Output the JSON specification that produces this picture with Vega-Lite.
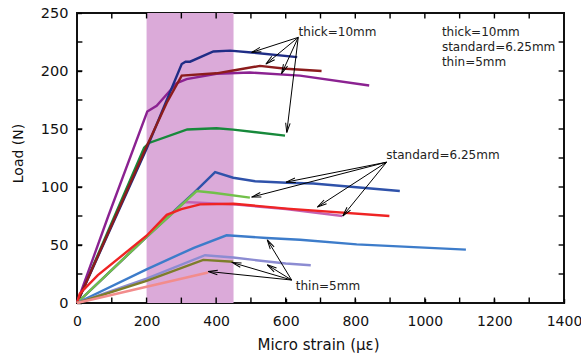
{
  "$schema": "https://vega.github.io/schema/vega-lite/v6.json",
  "width": 487,
  "height": 290,
  "autosize": "none",
  "padding": {"left": 77, "top": 13, "right": 17, "bottom": 53},
  "background": "white",
  "config": {
    "view": {"stroke": "#111", "strokeWidth": 2},
    "axis": {"labelFont": "DejaVu Sans", "titleFont": "DejaVu Sans", "labelColor": "#111", "titleColor": "#111", "tickColor": "#000", "tickWidth": 1.4, "titleFontWeight": "normal", "domain": false, "grid": false, "labelFlush": false}
  },
  "datasets": {
    "band": [{"x": 200, "x2": 450, "y": 0, "y2": 250}],
    "ticksBottom": [{"x": 100, "y": 0}, {"x": 200, "y": 0}, {"x": 300, "y": 0}, {"x": 400, "y": 0}, {"x": 500, "y": 0}, {"x": 600, "y": 0}, {"x": 700, "y": 0}, {"x": 800, "y": 0}, {"x": 900, "y": 0}, {"x": 1000, "y": 0}, {"x": 1100, "y": 0}, {"x": 1200, "y": 0}, {"x": 1300, "y": 0}],
    "ticksTop": [{"x": 100, "y": 250}, {"x": 200, "y": 250}, {"x": 300, "y": 250}, {"x": 400, "y": 250}, {"x": 500, "y": 250}, {"x": 600, "y": 250}, {"x": 700, "y": 250}, {"x": 800, "y": 250}, {"x": 900, "y": 250}, {"x": 1000, "y": 250}, {"x": 1100, "y": 250}, {"x": 1200, "y": 250}, {"x": 1300, "y": 250}],
    "ticksLeft": [{"x": 0, "y": 25}, {"x": 0, "y": 50}, {"x": 0, "y": 75}, {"x": 0, "y": 100}, {"x": 0, "y": 125}, {"x": 0, "y": 150}, {"x": 0, "y": 175}, {"x": 0, "y": 200}, {"x": 0, "y": 225}],
    "ticksRight": [{"x": 1400, "y": 25}, {"x": 1400, "y": 50}, {"x": 1400, "y": 75}, {"x": 1400, "y": 100}, {"x": 1400, "y": 125}, {"x": 1400, "y": 150}, {"x": 1400, "y": 175}, {"x": 1400, "y": 200}, {"x": 1400, "y": 225}],
    "lines": [
      {"s": "std magenta", "x": 0, "y": 0}, {"s": "std magenta", "x": 200, "y": 57}, {"s": "std magenta", "x": 310, "y": 87}, {"s": "std magenta", "x": 450, "y": 85}, {"s": "std magenta", "x": 600, "y": 81}, {"s": "std magenta", "x": 763, "y": 75},
      {"s": "thick green", "x": 0, "y": 0}, {"s": "thick green", "x": 193, "y": 133.8}, {"s": "thick green", "x": 207, "y": 138}, {"s": "thick green", "x": 317, "y": 149.6}, {"s": "thick green", "x": 401, "y": 150.6}, {"s": "thick green", "x": 449, "y": 149.5}, {"s": "thick green", "x": 598, "y": 144.3},
      {"s": "thick purple", "x": 0, "y": 0}, {"s": "thick purple", "x": 90, "y": 75}, {"s": "thick purple", "x": 202, "y": 165}, {"s": "thick purple", "x": 229, "y": 170}, {"s": "thick purple", "x": 287, "y": 189.6}, {"s": "thick purple", "x": 315, "y": 193}, {"s": "thick purple", "x": 401, "y": 197.6}, {"s": "thick purple", "x": 497, "y": 198.7}, {"s": "thick purple", "x": 641, "y": 196}, {"s": "thick purple", "x": 840, "y": 187.5},
      {"s": "thick navy", "x": 0, "y": 0}, {"s": "thick navy", "x": 200, "y": 133}, {"s": "thick navy", "x": 301, "y": 206}, {"s": "thick navy", "x": 312, "y": 208}, {"s": "thick navy", "x": 325, "y": 208}, {"s": "thick navy", "x": 392, "y": 216.8}, {"s": "thick navy", "x": 440, "y": 217.6}, {"s": "thick navy", "x": 502, "y": 216}, {"s": "thick navy", "x": 633, "y": 212},
      {"s": "thick darkred", "x": 0, "y": 0}, {"s": "thick darkred", "x": 200, "y": 135}, {"s": "thick darkred", "x": 258, "y": 172.6}, {"s": "thick darkred", "x": 301, "y": 196}, {"s": "thick darkred", "x": 401, "y": 198}, {"s": "thick darkred", "x": 449, "y": 200.4}, {"s": "thick darkred", "x": 526, "y": 204.4}, {"s": "thick darkred", "x": 600, "y": 202}, {"s": "thick darkred", "x": 703, "y": 200},
      {"s": "std blue", "x": 0, "y": 0}, {"s": "std blue", "x": 200, "y": 57}, {"s": "std blue", "x": 300, "y": 85}, {"s": "std blue", "x": 336, "y": 95}, {"s": "std blue", "x": 397, "y": 112.8}, {"s": "std blue", "x": 449, "y": 108}, {"s": "std blue", "x": 512, "y": 105}, {"s": "std blue", "x": 603, "y": 103.7}, {"s": "std blue", "x": 679, "y": 103}, {"s": "std blue", "x": 928, "y": 96.5},
      {"s": "std green", "x": 0, "y": 0}, {"s": "std green", "x": 200, "y": 57}, {"s": "std green", "x": 344, "y": 96.5}, {"s": "std green", "x": 392, "y": 95}, {"s": "std green", "x": 497, "y": 90.8},
      {"s": "std red", "x": 0, "y": 0}, {"s": "std red", "x": 8, "y": 8}, {"s": "std red", "x": 60, "y": 24}, {"s": "std red", "x": 200, "y": 58}, {"s": "std red", "x": 258, "y": 76}, {"s": "std red", "x": 300, "y": 81}, {"s": "std red", "x": 354, "y": 85}, {"s": "std red", "x": 450, "y": 85.5}, {"s": "std red", "x": 603, "y": 81.4}, {"s": "std red", "x": 898, "y": 75},
      {"s": "thin blue", "x": 0, "y": 0}, {"s": "thin blue", "x": 200, "y": 29}, {"s": "thin blue", "x": 336, "y": 47.6}, {"s": "thin blue", "x": 430, "y": 58.4}, {"s": "thin blue", "x": 545, "y": 56}, {"s": "thin blue", "x": 641, "y": 54.5}, {"s": "thin blue", "x": 804, "y": 50.5}, {"s": "thin blue", "x": 1118, "y": 46},
      {"s": "thin lavender", "x": 0, "y": 0}, {"s": "thin lavender", "x": 200, "y": 21}, {"s": "thin lavender", "x": 368, "y": 41.2}, {"s": "thin lavender", "x": 449, "y": 39.2}, {"s": "thin lavender", "x": 600, "y": 34}, {"s": "thin lavender", "x": 672, "y": 32.5},
      {"s": "thin olive", "x": 0, "y": 0}, {"s": "thin olive", "x": 200, "y": 19}, {"s": "thin olive", "x": 363, "y": 37.2}, {"s": "thin olive", "x": 449, "y": 35.5},
      {"s": "thin salmon", "x": 0, "y": 0}, {"s": "thin salmon", "x": 200, "y": 14}, {"s": "thin salmon", "x": 377, "y": 26.3}
    ],
    "arrows": [
      {"sx": 636, "sy": 229, "x": 502, "y": 216}, {"sx": 636, "sy": 229, "x": 543, "y": 206}, {"sx": 636, "sy": 229, "x": 588, "y": 197.6}, {"sx": 636, "sy": 229, "x": 603, "y": 147},
      {"sx": 890, "sy": 121.4, "x": 601, "y": 104.2}, {"sx": 890, "sy": 121.4, "x": 502, "y": 91.3}, {"sx": 890, "sy": 121.4, "x": 691, "y": 82.7}, {"sx": 890, "sy": 121.4, "x": 764, "y": 75},
      {"sx": 617, "sy": 19.8, "x": 547, "y": 54.4}, {"sx": 617, "sy": 19.8, "x": 547, "y": 32.9}, {"sx": 617, "sy": 19.8, "x": 445, "y": 35}, {"sx": 617, "sy": 19.8, "x": 377, "y": 27.2}
    ],
    "texts": [
      {"x": 637, "y": 230.6, "t": "thick=10mm"},
      {"x": 889, "y": 124.3, "t": "standard=6.25mm"},
      {"x": 629, "y": 11, "t": "thin=5mm"},
      {"x": 1049, "y": 230.6, "t": "thick=10mm"},
      {"x": 1049, "y": 217, "t": "standard=6.25mm"},
      {"x": 1049, "y": 204.7, "t": "thin=5mm"}
    ]
  },
  "encoding": {
    "x": {"field": "x", "type": "quantitative", "scale": {"domain": [0, 1400], "nice": false},
      "axis": {"orient": "bottom", "values": [0,200,400,600,800,1000,1200,1400], "format": "d",
        "labelFontSize": 14, "labelPadding": 15.5, "tickSize": -4.5,
        "title": "Micro strain (με)", "titleFontSize": 15, "titleX": 241, "titleY": 46, "titleBaseline": "alphabetic"}},
    "y": {"field": "y", "type": "quantitative", "scale": {"domain": [0, 250], "nice": false},
      "axis": {"orient": "left", "values": [0,50,100,150,200,250], "format": "d",
        "labelFontSize": 14.5, "labelPadding": 13.5, "tickSize": -4.5,
        "title": "Load (N)", "titleFontSize": 14, "titleX": -55, "titleY": 140, "titleBaseline": "alphabetic"}}
  },
  "layer": [
    {
      "data": {"name": "band"},
      "mark": {"type": "rect", "color": "#dbaad9"},
      "encoding": {"x2": {"field": "x2"}, "y2": {"field": "y2"}}
    },
    {
      "data": {"name": "ticksBottom"},
      "mark": {"type": "rule", "color": "#000", "strokeWidth": 1.4},
      "encoding": {"y2": {"datum": 4.7}}
    },
    {
      "data": {"name": "ticksTop"},
      "mark": {"type": "rule", "color": "#000", "strokeWidth": 1.4},
      "encoding": {"y2": {"datum": 245.3}}
    },
    {
      "data": {"name": "ticksLeft"},
      "mark": {"type": "rule", "color": "#000", "strokeWidth": 1.4},
      "encoding": {"x2": {"datum": 15.5}}
    },
    {
      "data": {"name": "ticksRight"},
      "mark": {"type": "rule", "color": "#000", "strokeWidth": 1.4},
      "encoding": {"x2": {"datum": 1384.5}}
    },
    {
      "data": {"name": "lines"},
      "mark": {"type": "line", "strokeWidth": 2.4},
      "encoding": {
        "color": {"field": "s", "type": "nominal", "legend": null,
          "scale": {"domain": ["std magenta", "thick green", "thick purple", "thick navy", "thick darkred", "std blue", "std green", "std red", "thin blue", "thin lavender", "thin olive", "thin salmon"],
            "range": ["#c462b2", "#17893b", "#8b2291", "#1f2d86", "#8c1c1c", "#2f52aa", "#72c04a", "#ef2424", "#3d7cca", "#8c8cd2", "#7d7d2a", "#f28c8c"]}}
      }
    },
    {
      "data": {"name": "arrows"},
      "mark": {"type": "rule", "color": "#000", "strokeWidth": 1},
      "encoding": {"x2": {"field": "sx"}, "y2": {"field": "sy"}}
    },
    {
      "data": {"name": "arrows"},
      "transform": [{"calculate": "atan2((datum.x - datum.sx) * 487 / 1400, (datum.y - datum.sy) * 290 / 250) * 180 / PI", "as": "ang"}],
      "mark": {"type": "point", "shape": "M-0.45,1.9L0,0L0.45,1.9", "filled": false, "stroke": "#000", "strokeWidth": 1, "size": 100, "opacity": 1},
      "encoding": {"angle": {"field": "ang", "type": "quantitative", "scale": null}}
    },
    {
      "data": {"name": "texts"},
      "mark": {"type": "text", "align": "left", "baseline": "alphabetic", "font": "DejaVu Sans", "fontSize": 12, "color": "#222"},
      "encoding": {"text": {"field": "t"}}
    }
  ]
}
